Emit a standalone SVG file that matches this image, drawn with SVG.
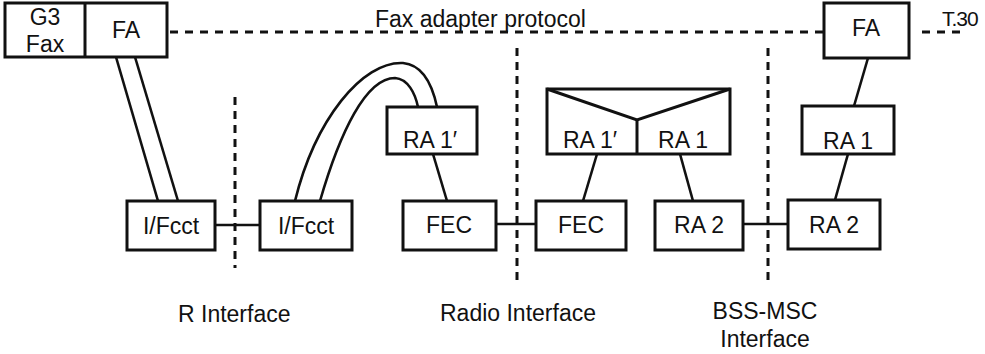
<svg xmlns="http://www.w3.org/2000/svg" width="985" height="354" viewBox="0 0 985 354">
<style>
.box{fill:#fff;stroke:#111;stroke-width:3}
.ln{fill:none;stroke:#111;stroke-width:2.6}
.vd{fill:none;stroke:#111;stroke-width:3;stroke-dasharray:8 6}
.hd{fill:none;stroke:#111;stroke-width:3;stroke-dasharray:8 7}
text{font-family:"Liberation Sans",Arial,sans-serif;font-size:23px;fill:#111;text-anchor:middle}
.lbl{text-anchor:start}
</style>
<rect width="985" height="354" fill="#fff"/>
<g id="interfaces">
<line class="vd" x1="235" y1="97" x2="235" y2="268"/>
<line class="vd" x1="517" y1="48" x2="517" y2="286"/>
<line class="vd" x1="768" y1="48" x2="768" y2="286"/>
</g>
<g id="connectors">
<line class="hd" x1="170" y1="32" x2="824" y2="32"/>
<line class="hd" x1="922" y1="32" x2="962" y2="32"/>
<line class="ln" x1="116" y1="57" x2="158" y2="201"/>
<line class="ln" x1="135" y1="57" x2="178" y2="201"/>
<line class="ln" x1="215" y1="225" x2="260" y2="225"/>
<path class="ln" d="M295,201 C315,120 362,61 403,63 C425,65 433,88 437,107"/>
<path class="ln" d="M320,201 C340,132 366,78 395,78 C408,79 415,93 418,107"/>
<line class="ln" x1="433" y1="154" x2="447" y2="201"/>
<line class="ln" x1="496" y1="224" x2="536" y2="224"/>
<line class="ln" x1="597" y1="154" x2="583" y2="201"/>
<line class="ln" x1="680" y1="154" x2="693" y2="201"/>
<line class="ln" x1="743" y1="224" x2="788" y2="224"/>
<line class="ln" x1="868" y1="58" x2="854" y2="106"/>
<line class="ln" x1="848" y1="154" x2="835" y2="200"/>
</g>
<g id="g3fax">
<rect class="box" x="5" y="3" width="162" height="54"/>
<line class="ln" x1="85" y1="3" x2="85" y2="57" style="stroke-width:3"/>
<text x="45" y="25">G3</text>
<text x="45" y="52">Fax</text>
<text x="126" y="38">FA</text>
</g>
<g id="ifcct1">
<rect class="box" x="127" y="201" width="88" height="49"/>
<text x="171" y="234">I/Fcct</text>
</g>
<g id="ifcct2">
<rect class="box" x="260" y="201" width="92" height="49"/>
<text x="306" y="234">I/Fcct</text>
</g>
<g id="ra1p-a">
<rect class="box" x="387" y="107" width="90" height="47"/>
<text x="430" y="148">RA 1′</text>
</g>
<g id="fec1">
<rect class="box" x="403" y="201" width="93" height="49"/>
<text x="449" y="233">FEC</text>
</g>
<g id="fec2">
<rect class="box" x="536" y="201" width="90" height="49"/>
<text x="581" y="233">FEC</text>
</g>
<g id="ra-combined">
<rect class="box" x="547" y="89" width="183" height="65"/>
<polyline class="ln" points="547,89 637,120 730,89" style="stroke-width:3"/>
<line class="ln" x1="637" y1="120" x2="637" y2="154" style="stroke-width:3"/>
<text x="590" y="148">RA 1′</text>
<text x="683" y="148">RA 1</text>
</g>
<g id="ra2-a">
<rect class="box" x="655" y="201" width="88" height="49"/>
<text x="699" y="233">RA 2</text>
</g>
<g id="ra2-b">
<rect class="box" x="788" y="200" width="92" height="49"/>
<text x="834" y="233">RA 2</text>
</g>
<g id="ra1-b">
<rect class="box" x="802" y="106" width="92" height="48"/>
<text x="848" y="149">RA 1</text>
</g>
<g id="fa-b">
<rect class="box" x="824" y="3" width="85" height="55"/>
<text x="866" y="36">FA</text>
</g>
<g id="labels">
<text class="lbl" x="375" y="27">Fax adapter protocol</text>
<text class="lbl" x="942" y="26" style="font-size:21px;letter-spacing:-1px">T.30</text>
<text class="lbl" x="178" y="322">R Interface</text>
<text class="lbl" x="440" y="321">Radio Interface</text>
<text x="765" y="319">BSS-MSC</text>
<text x="765" y="347">Interface</text>
</g>
</svg>
